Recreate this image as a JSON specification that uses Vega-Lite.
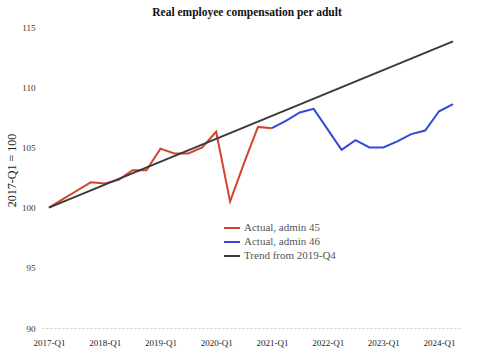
{
  "$schema": "https://vega.github.io/schema/vega-lite/v6.json",
  "width": 418,
  "height": 301,
  "autosize": {"type": "none"},
  "padding": {"left": 42, "top": 27, "right": 23, "bottom": 27},
  "background": "white",
  "title": {
    "text": "Real employee compensation per adult",
    "font": "Liberation Serif",
    "fontSize": 11.5,
    "fontWeight": "bold",
    "color": "#111",
    "anchor": "middle",
    "dx": -4,
    "offset": 5
  },
  "config": {"view": {"stroke": null}},
  "data": {
    "values": [
      {"q": "2017-Q1", "v": 100.0, "s": "Actual, admin 45"},
      {"q": "2017-Q2", "v": 100.7, "s": "Actual, admin 45"},
      {"q": "2017-Q3", "v": 101.4, "s": "Actual, admin 45"},
      {"q": "2017-Q4", "v": 102.1, "s": "Actual, admin 45"},
      {"q": "2018-Q1", "v": 102.0, "s": "Actual, admin 45"},
      {"q": "2018-Q2", "v": 102.3, "s": "Actual, admin 45"},
      {"q": "2018-Q3", "v": 103.1, "s": "Actual, admin 45"},
      {"q": "2018-Q4", "v": 103.1, "s": "Actual, admin 45"},
      {"q": "2019-Q1", "v": 104.9, "s": "Actual, admin 45"},
      {"q": "2019-Q2", "v": 104.5, "s": "Actual, admin 45"},
      {"q": "2019-Q3", "v": 104.5, "s": "Actual, admin 45"},
      {"q": "2019-Q4", "v": 105.0, "s": "Actual, admin 45"},
      {"q": "2020-Q1", "v": 106.3, "s": "Actual, admin 45"},
      {"q": "2020-Q2", "v": 100.5, "s": "Actual, admin 45"},
      {"q": "2020-Q3", "v": 103.7, "s": "Actual, admin 45"},
      {"q": "2020-Q4", "v": 106.7, "s": "Actual, admin 45"},
      {"q": "2021-Q1", "v": 106.6, "s": "Actual, admin 45"},
      {"q": "2021-Q1", "v": 106.6, "s": "Actual, admin 46"},
      {"q": "2021-Q2", "v": 107.2, "s": "Actual, admin 46"},
      {"q": "2021-Q3", "v": 107.9, "s": "Actual, admin 46"},
      {"q": "2021-Q4", "v": 108.2, "s": "Actual, admin 46"},
      {"q": "2022-Q1", "v": 106.5, "s": "Actual, admin 46"},
      {"q": "2022-Q2", "v": 104.8, "s": "Actual, admin 46"},
      {"q": "2022-Q3", "v": 105.6, "s": "Actual, admin 46"},
      {"q": "2022-Q4", "v": 105.0, "s": "Actual, admin 46"},
      {"q": "2023-Q1", "v": 105.0, "s": "Actual, admin 46"},
      {"q": "2023-Q2", "v": 105.5, "s": "Actual, admin 46"},
      {"q": "2023-Q3", "v": 106.1, "s": "Actual, admin 46"},
      {"q": "2023-Q4", "v": 106.4, "s": "Actual, admin 46"},
      {"q": "2024-Q1", "v": 108.0, "s": "Actual, admin 46"},
      {"q": "2024-Q2", "v": 108.6, "s": "Actual, admin 46"},
      {"q": "2017-Q1", "v": 100.0, "s": "Trend from 2019-Q4"},
      {"q": "2024-Q2", "v": 113.8, "s": "Trend from 2019-Q4"}
    ]
  },
  "mark": {"type": "line", "strokeWidth": 2},
  "encoding": {
    "x": {
      "field": "q",
      "type": "ordinal",
      "scale": {
        "type": "point",
        "padding": 0.5,
        "domain": ["2017-Q1","2017-Q2","2017-Q3","2017-Q4","2018-Q1","2018-Q2","2018-Q3","2018-Q4","2019-Q1","2019-Q2","2019-Q3","2019-Q4","2020-Q1","2020-Q2","2020-Q3","2020-Q4","2021-Q1","2021-Q2","2021-Q3","2021-Q4","2022-Q1","2022-Q2","2022-Q3","2022-Q4","2023-Q1","2023-Q2","2023-Q3","2023-Q4","2024-Q1","2024-Q2"]
      },
      "axis": {
        "title": null,
        "values": ["2017-Q1","2018-Q1","2019-Q1","2020-Q1","2021-Q1","2022-Q1","2023-Q1","2024-Q1"],
        "labelAngle": 0,
        "labelFont": "Liberation Serif",
        "labelFontSize": 9,
        "labelColor": "#222",
        "labelPadding": 10,
        "ticks": false,
        "domainColor": "#cccccc",
        "domainDash": [2, 2],
        "domainWidth": 1,
        "grid": false
      }
    },
    "y": {
      "field": "v",
      "type": "quantitative",
      "scale": {"domain": [90, 115], "zero": false, "nice": false},
      "axis": {
        "title": "2017-Q1 = 100",
        "titleFont": "Liberation Serif",
        "titleFontSize": 12,
        "titleFontWeight": "normal",
        "titleColor": "#222",
        "titlePadding": 3,
        "titleY": 143,
        "values": [90, 95, 100, 105, 110, 115],
        "labelFont": "Liberation Serif",
        "labelFontSize": 9,
        "labelColor": "#333",
        "labelPadding": 7,
        "ticks": false,
        "domain": false,
        "grid": false
      }
    },
    "color": {
      "field": "s",
      "type": "nominal",
      "scale": {
        "domain": ["Actual, admin 45", "Actual, admin 46", "Trend from 2019-Q4"],
        "range": ["#d2452c", "#3448da", "#3a3a3a"]
      },
      "legend": {
        "title": null,
        "orient": "none",
        "legendX": 181,
        "legendY": 192,
        "symbolType": "stroke",
        "symbolSize": 256,
        "symbolStrokeWidth": 2,
        "labelFont": "Liberation Serif",
        "labelFontSize": 11,
        "labelColor": "#555",
        "labelOffset": 3,
        "rowPadding": -3
      }
    },
    "strokeWidth": {
      "field": "s",
      "type": "nominal",
      "scale": {
        "domain": ["Actual, admin 45", "Actual, admin 46", "Trend from 2019-Q4"],
        "range": [2, 2, 1.5]
      },
      "legend": null
    }
  }
}
